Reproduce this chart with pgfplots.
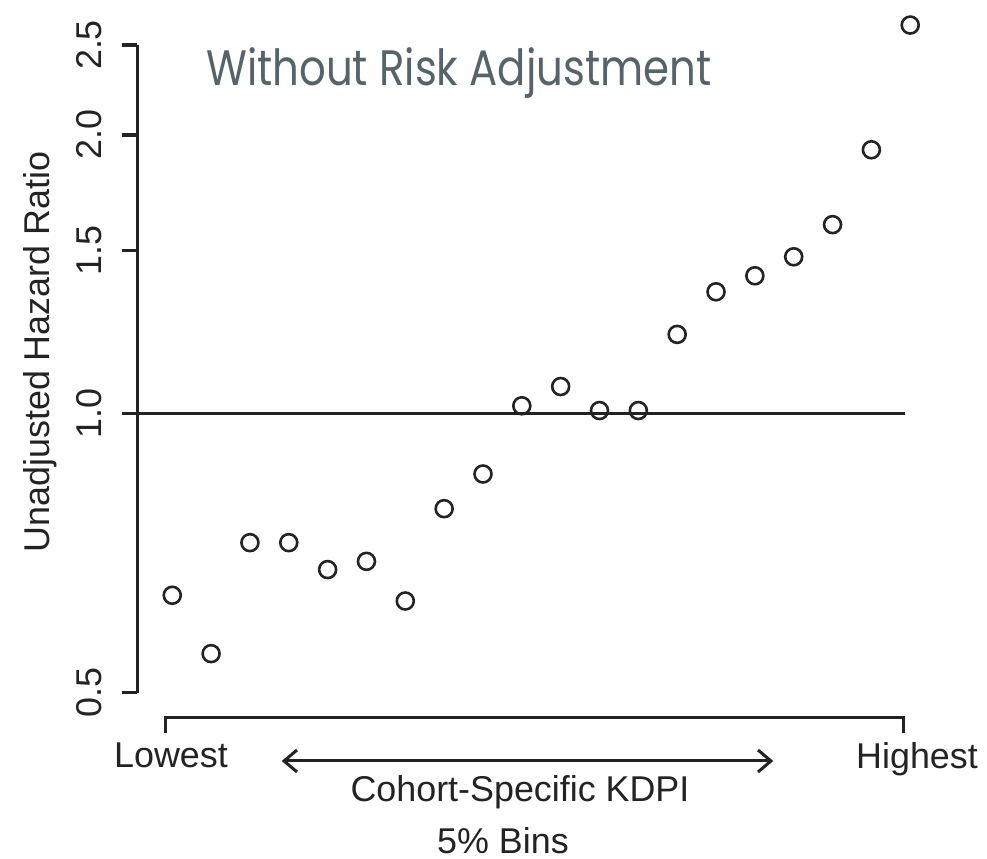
\documentclass[border=0pt]{standalone}
\usepackage{pgfplots}
\pgfplotsset{compat=1.18}
\usepackage{fontspec}
\setmainfont{Liberation Sans}
\newfontfamily\titlefont{Poppins}
\usetikzlibrary{arrows.meta}
\definecolor{titlegray}{RGB}{86,100,106}
\definecolor{ink}{RGB}{35,35,35}

\begin{document}
\begin{tikzpicture}
\begin{axis}[
    at={(137.3bp,166.3bp)}, anchor=south west,
    scale only axis,
    width=804bp, height=647.7bp,
    xmin=0.1, xmax=20.8,
    ymin=0.5, ymax=2.5,
    ymode=log,
    axis x line=none,
    axis y line*=left,
    axis line style={-, line width=3.4bp, ink},
    ytick={0.5,1,1.5,2,2.5},
    yticklabels={0.5,1.0,1.5,2.0,2.5},
    tick align=outside,
    major tick length=15bp,
    tick style={line width=3.4bp, ink},
    yticklabel style={rotate=90, anchor=south, inner sep=0pt,
        font=\fontsize{36}{40}\selectfont, text=ink},
    yticklabel shift=20bp,
    /pgf/number format/assume math mode=true,
    clip=false,
]
% reference line at hazard ratio 1
\addplot[ink, line width=3.2bp, mark=none] coordinates {(0.1,1) (19.87,1)};
% hazard ratio by 5% KDPI bin
\addplot[only marks, mark=o, mark size=8.5bp,
    mark options={line width=2.6bp, ink}] coordinates {
    (1,0.637) (2,0.551) (3,0.726) (4,0.726) (5,0.679)
    (6,0.693) (7,0.628) (8,0.790) (9,0.861) (10,1.020)
    (11,1.070) (12,1.008) (13,1.008) (14,1.218) (15,1.354)
    (16,1.409) (17,1.477) (18,1.600) (19,1.927) (20,2.627)
};
\end{axis}

% x "axis": bracket, end labels and direction arrow
\draw[ink, line width=3.4bp] (165.7bp,126.3bp) -- (165.7bp,141.3bp)
    -- (903.3bp,141.3bp) -- (903.3bp,126.3bp);
\draw[ink, line width=3bp, {Straight Barb[length=13bp,width=22bp]}-{Straight Barb[length=13bp,width=22bp]}]
    (281.7bp,98bp) -- (773.3bp,98bp);
\begin{scope}[every node/.style={font=\fontsize{36}{40}\selectfont, text=ink, inner sep=0pt}]
\node[anchor=base] at (171bp,91bp) {Lowest};
\node[anchor=base] at (917bp,90bp) {Highest};
\node[anchor=base] at (520bp,57.3bp) {Cohort-Specific KDPI};
\node[anchor=base] at (503bp,6bp) {5\% Bins};
\node[rotate=90, anchor=center] at (40bp,507bp) {Unadjusted Hazard Ratio};
\end{scope}

\node[anchor=base west, inner sep=0pt, text=titlegray,
    font=\titlefont\fontsize{50}{55}\selectfont] at (206bp,773bp)
    {\scalebox{0.84}[1]{Without Risk Adjustment}};

\path (0,0) rectangle (987bp,859bp);
\end{tikzpicture}
\end{document}
